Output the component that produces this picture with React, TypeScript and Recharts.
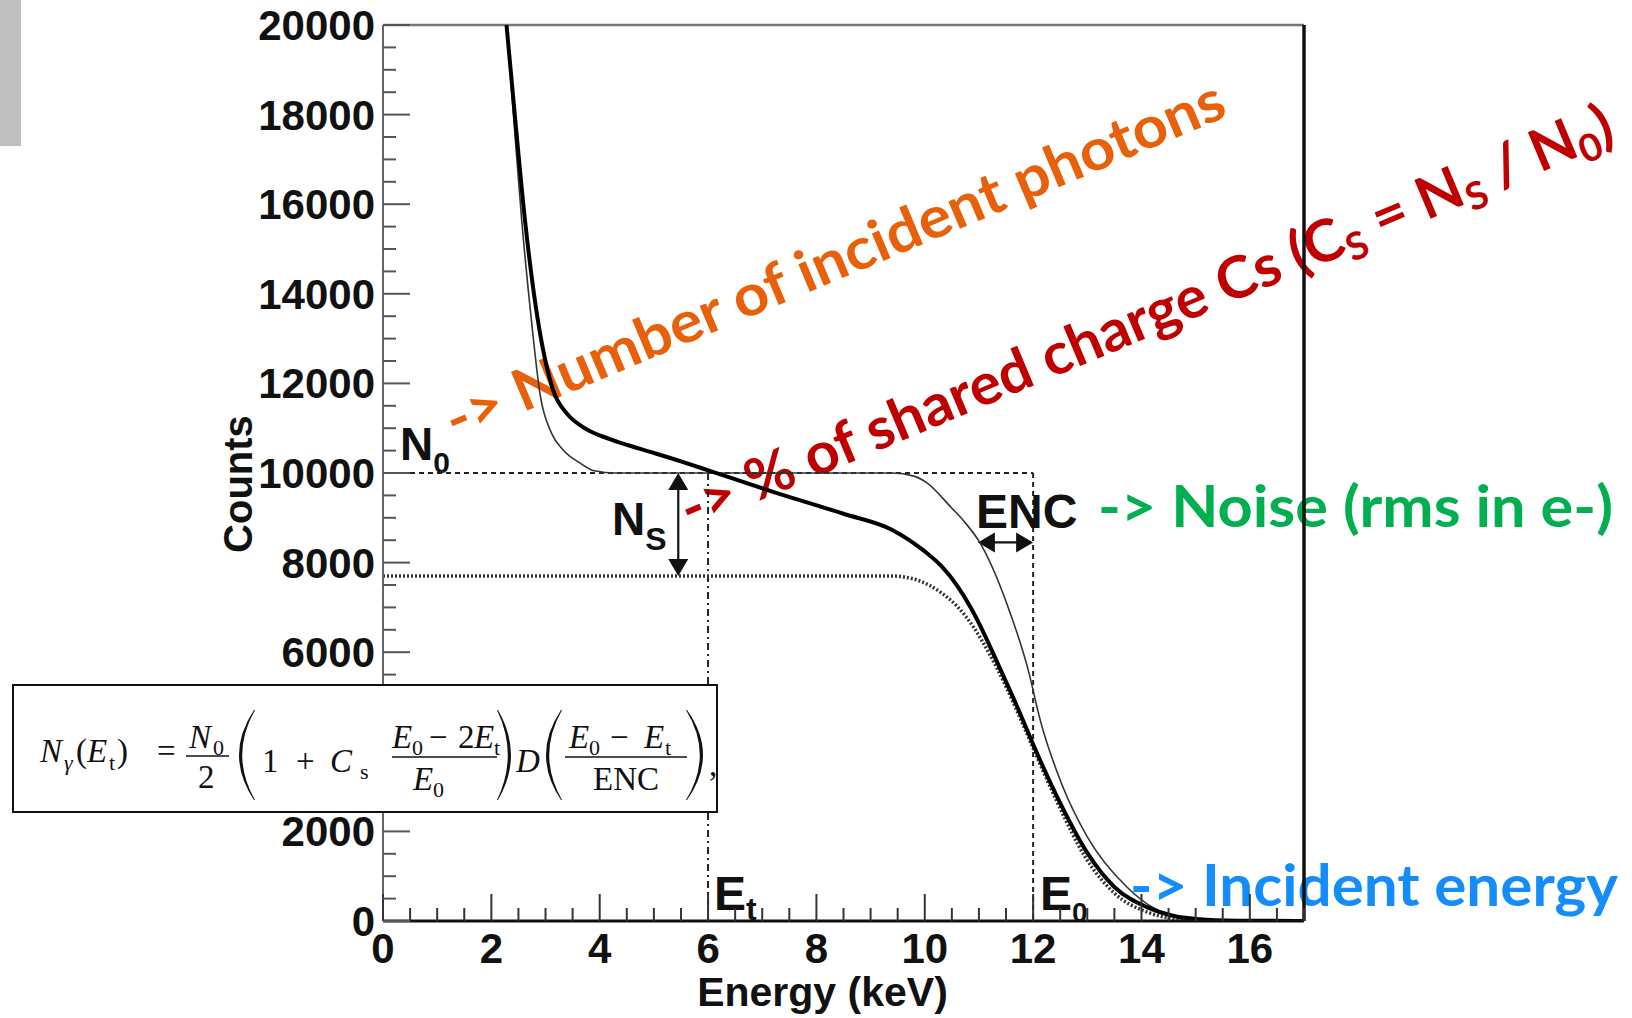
import React from "react";
import {
  LineChart,
  Line,
  XAxis,
  YAxis,
  ReferenceLine,
  ReferenceDot,
  Label,
} from "recharts";

const SANS = "'Liberation Sans', Arial, Helvetica, sans-serif";
const SERIF = "'Liberation Serif', 'Times New Roman', serif";
const NOTE = "Lato, 'Open Sans', sans-serif";

// measured spectrum (thick line)
const measEnergy = [2.28, 2.44, 2.62, 2.86, 3.14, 3.4, 3.7, 4.2, 4.75, 5.5, 6.1, 7.2, 8.5, 9.4, 10.0, 10.3, 10.6, 10.85, 11.1, 11.35, 11.7, 12.07, 12.5, 13.0, 13.5, 14.1, 14.6, 15.2, 16, 17];
const measCounts = [20000, 17900, 15650, 13400, 11850, 11320, 11020, 10750, 10540, 10260, 10020, 9580, 9090, 8730, 8250, 7930, 7480, 6990, 6400, 5740, 4800, 3750, 2630, 1520, 760, 310, 110, 30, 5, 0];

// no charge sharing (thin line)
const idealEnergy = [2.28, 2.42, 2.56, 2.74, 2.9, 3.11, 3.33, 3.64, 3.9, 4.3, 9.4, 9.8, 10.04, 10.48, 10.74, 11.02, 11.51, 11.91, 12.13, 12.55, 13.0, 13.73, 14.2, 14.8, 15.5, 17];
const idealCounts = [20000, 17800, 15650, 13400, 11750, 10890, 10510, 10220, 10050, 10000, 10000, 9930, 9780, 9240, 8900, 8440, 7100, 5600, 4490, 2990, 1880, 760, 310, 80, 10, 0];

// lost counts level (dotted line)
const lostEnergy = [0, 9.4, 9.86, 10.3, 10.6, 10.9, 11.2, 11.5, 11.8, 12.1, 12.45, 12.95, 13.5, 14.1, 14.6, 15.2];
const lostCounts = [7700, 7700, 7610, 7330, 7020, 6560, 5950, 5230, 4420, 3580, 2640, 1450, 620, 200, 50, 0];

const xLabels = [0, 2, 4, 6, 8, 10, 12, 14, 16];
const yMajor = [0, 2000, 4000, 6000, 8000, 10000, 12000, 14000, 16000, 18000, 20000];
// 4000 sits under the formula box in the picture
const yLabels = [0, 2000, 6000, 8000, 10000, 12000, 14000, 16000, 18000, 20000];
const xTicks = Array.from({ length: 35 }, (_, i) => i * 0.5);
const yTicks = Array.from({ length: 41 }, (_, i) => i * 500);

const N0 = 10000;
const NLOST = 7700;
const E_T = 6;
const E_0 = 12;

const toRows = (xs: number[], ys: number[]) => xs.map((e, i) => ({ energy: e, counts: ys[i] }));
const measured = toRows(measEnergy, measCounts);
const ideal = toRows(idealEnergy, idealCounts);
const lost = toRows(lostEnergy, lostCounts);

const XTick = (props: any) => {
  const { x, y, payload } = props;
  const v = payload.value;
  const major = xLabels.includes(v);
  return (
    <g>
      <line x1={x} x2={x} y1={y} y2={y - (major ? 27 : 13)} stroke="#333" strokeWidth={2} />
      {major && (
        <text x={x} y={y + 42} textAnchor="middle" fontFamily={SANS} fontWeight="bold" fontSize={42} fill="#111">
          {v}
        </text>
      )}
    </g>
  );
};

const YTick = (props: any) => {
  const { x, y, payload } = props;
  const v = payload.value;
  const major = yMajor.includes(v);
  return (
    <g>
      <line x1={x} x2={x + (major ? 27 : 13)} y1={y} y2={y} stroke="#555" strokeWidth={2} />
      {yLabels.includes(v) && (
        <text x={x - 8} y={y + 15} textAnchor="end" fontFamily={SANS} fontWeight="bold" fontSize={42} fill="#111">
          {v}
        </text>
      )}
    </g>
  );
};

const subLabel = (main: string, sub: string, size: number, subSize: number, drop: number) => (p: any) => (
  <text x={p.cx} y={p.cy} fontFamily={SANS} fontWeight="bold" fontSize={size} fill="#111">
    {main}
    <tspan fontSize={subSize} dy={drop}>
      {sub}
    </tspan>
  </text>
);

const doubleArrow = (p: any) => {
  const { x1, y1, x2, y2 } = p;
  const len = Math.hypot(x2 - x1, y2 - y1) || 1;
  const ux = (x2 - x1) / len;
  const uy = (y2 - y1) / len;
  const hl = 17;
  const hw = 10;
  const head = (tx: number, ty: number, dx: number, dy: number) => {
    const bx = tx - dx * hl;
    const by = ty - dy * hl;
    return `M${tx},${ty} L${bx - dy * hw},${by + dx * hw} L${bx + dy * hw},${by - dx * hw} Z`;
  };
  return (
    <g>
      <line x1={x1 + ux * 8} y1={y1 + uy * 8} x2={x2 - ux * 8} y2={y2 - uy * 8} stroke="#111" strokeWidth={2.2} />
      <path d={head(x1, y1, -ux, -uy)} fill="#111" />
      <path d={head(x2, y2, ux, uy)} fill="#111" />
    </g>
  );
};

const paren = (l: number, r: number, top: number, bot: number, left: boolean) => {
  const mid = (top + bot) / 2;
  if (left) {
    const x0 = l + 3;
    const x1 = r - 3;
    return `M${x1},${top} Q${2 * x0 - x1},${mid} ${x1},${bot} L${x1 + 1},${bot} Q${2 * (x0 + 3.2) - x1 - 1},${mid} ${x1 + 1},${top} Z`;
  }
  const x0 = r - 3;
  const x1 = l + 3;
  return `M${x1},${top} Q${2 * x0 - x1},${mid} ${x1},${bot} L${x1 - 1},${bot} Q${2 * (x0 - 3.2) - x1 + 1},${mid} ${x1 - 1},${top} Z`;
};

// [x, y, text, size, italic]
const formulaPieces: [number, number, string, number, boolean][] = [
  [28, 78, "N", 33, true],
  [52, 86, "γ", 22, true],
  [64, 78, "(", 33, false],
  [75, 78, "E", 33, true],
  [97, 86, "t", 22, false],
  [105, 78, ")", 33, false],
  [145, 78, "=", 33, false],
  [177, 64, "N", 33, true],
  [201, 71, "0", 22, false],
  [186, 104, "2", 33, false],
  [250, 88, "1", 33, false],
  [284, 88, "+", 33, false],
  [318, 88, "C", 33, true],
  [348, 95, "s", 22, false],
  [380, 64, "E", 33, true],
  [400, 71, "0", 22, false],
  [417, 64, "−", 33, false],
  [446, 64, "2", 33, false],
  [462, 64, "E", 33, true],
  [482, 71, "t", 22, false],
  [401, 106, "E", 33, true],
  [421, 113, "0", 22, false],
  [504, 88, "D", 33, true],
  [557, 64, "E", 33, true],
  [577, 71, "0", 22, false],
  [598, 64, "−", 33, false],
  [632, 64, "E", 33, true],
  [653, 71, "t", 22, false],
  [581, 106, "ENC", 33, false],
  [697, 92, ",", 33, false],
];

const Formula = () => (
  <svg width={706} height={129} style={{ position: "absolute", left: -2, top: -2, overflow: "visible" }}>
    <text fontFamily={SERIF} fill="#111">
      {formulaPieces.map(([x, y, t, size, it], i) => (
        <tspan key={i} x={x} y={y} fontSize={size} fontStyle={it ? "italic" : "normal"}>
          {t}
        </tspan>
      ))}
    </text>
    <line x1={174} x2={217} y1={72} y2={72} stroke="#111" strokeWidth={1.6} />
    <line x1={380} x2={485} y1={73} y2={73} stroke="#111" strokeWidth={1.6} />
    <line x1={553} x2={675} y1={73} y2={73} stroke="#111" strokeWidth={1.6} />
    <path d={paren(224, 245, 26, 116, true)} fill="#111" />
    <path d={paren(483, 502, 26, 116, false)} fill="#111" />
    <path d={paren(531, 552, 26, 116, true)} fill="#111" />
    <path d={paren(672, 694, 26, 116, false)} fill="#111" />
  </svg>
);

const Notes = () => {
  const base = { fontFamily: NOTE, fontWeight: 700, fontSize: 58, lengthAdjust: "spacingAndGlyphs" } as any;
  return (
    <svg width={1632} height={1018} style={{ position: "absolute", left: 0, top: 0 }}>
      <rect x={0} y={0} width={21} height={146} fill="#BFBFBF" />
      <text x={455} y={441} transform="rotate(-22.8 455 441)" {...base} textLength={840} fill="#E8600A">
        {"-> Number of incident photons"}
      </text>
      <text x={690} y={530} transform="rotate(-22.8 690 530)" {...base} textLength={1006} fill="#C00000">
        {"-> % of shared charge Cs (C"}
        <tspan fontSize={38} dy={10}>S</tspan>
        <tspan dy={-10}>{" = N"}</tspan>
        <tspan fontSize={38} dy={10}>S</tspan>
        <tspan dy={-10}>{" / N"}</tspan>
        <tspan fontSize={38} dy={10}>0</tspan>
        <tspan dy={-10}>)</tspan>
      </text>
      <text x={1098} y={527} {...base} textLength={515} fill="#00B050">
        {"-> Noise (rms in e-)"}
      </text>
      <text x={1130} y={906} {...base} textLength={488} fill="#148CFA">
        {"-> Incident energy"}
      </text>
    </svg>
  );
};

export default function App() {
  return (
    <div style={{ position: "absolute", left: 0, top: 0, width: 1632, height: 1018, background: "#fff", overflow: "hidden" }}>
      <Notes />
      <div style={{ position: "absolute", left: 0, top: 0 }}>
        <LineChart width={1632} height={1018} margin={{ top: 25, right: 328, bottom: 7, left: 233 }}>
          <XAxis
            type="number"
            dataKey="energy"
            domain={[0, 17]}
            ticks={xTicks}
            interval={0}
            tickSize={0}
            tickMargin={0}
            tick={XTick}
            height={90}
            axisLine={{ stroke: "#111", strokeWidth: 3 }}
            allowDataOverflow
          >
            <Label
              content={(p: any) => (
                <text
                  x={p.viewBox.x + p.viewBox.width / 2 - 21}
                  y={p.viewBox.y + 85}
                  textAnchor="middle"
                  fontFamily={SANS}
                  fontWeight="bold"
                  fontSize={41}
                  fill="#111"
                >
                  Energy (keV)
                </text>
              )}
            />
          </XAxis>
          <YAxis
            type="number"
            domain={[0, 20000]}
            ticks={yTicks}
            interval={0}
            tickSize={0}
            tickMargin={0}
            tick={YTick}
            width={150}
            axisLine={{ stroke: "#666", strokeWidth: 2 }}
            allowDataOverflow
          >
            <Label
              content={(p: any) => {
                const cx = p.viewBox.x + 5;
                const cy = p.viewBox.y + p.viewBox.height / 2 + 11;
                return (
                  <text
                    x={cx}
                    y={cy}
                    transform={`rotate(-90 ${cx} ${cy})`}
                    textAnchor="middle"
                    dominantBaseline="central"
                    fontFamily={SANS}
                    fontWeight="bold"
                    fontSize={40}
                    fill="#111"
                  >
                    Counts
                  </text>
                );
              }}
            />
          </YAxis>
          <ReferenceLine y={20000} stroke="#777" strokeWidth={2.5} />
          <ReferenceLine x={17} stroke="#111" strokeWidth={3.5} />
          <ReferenceLine segment={[{ x: 0, y: N0 }, { x: E_0, y: N0 }]} stroke="#222" strokeWidth={2} strokeDasharray="5 4" />
          <ReferenceLine segment={[{ x: E_0, y: N0 }, { x: E_0, y: 0 }]} stroke="#222" strokeWidth={2} strokeDasharray="5 4" />
          <ReferenceLine segment={[{ x: E_T, y: N0 }, { x: E_T, y: 0 }]} stroke="#222" strokeWidth={2} strokeDasharray="7 4 2 4" />
          <ReferenceLine segment={[{ x: 5.45, y: N0 }, { x: 5.45, y: NLOST }]} shape={doubleArrow} />
          <ReferenceLine segment={[{ x: 10.98, y: 8450 }, { x: E_0, y: 8450 }]} shape={doubleArrow} />
          <Line data={lost} dataKey="counts" type="monotone" stroke="#333" strokeWidth={3.5} strokeDasharray="2 2" dot={false} isAnimationActive={false} />
          <Line data={ideal} dataKey="counts" type="monotone" stroke="#333" strokeWidth={1.6} dot={false} isAnimationActive={false} />
          <Line data={measured} dataKey="counts" type="monotone" stroke="#000" strokeWidth={4} dot={false} isAnimationActive={false} />
          <ReferenceDot x={0.314} y={10290} r={0} shape={subLabel("N", "0", 46, 30, 13)} />
          <ReferenceDot x={4.227} y={8616} r={0} shape={subLabel("N", "S", 46, 32, 15)} />
          <ReferenceDot x={10.946} y={8772} r={0} shape={subLabel("ENC", "", 48, 30, 0)} />
          <ReferenceDot x={6.11} y={246} r={0} shape={subLabel("E", "t", 48, 32, 10)} />
          <ReferenceDot x={12.127} y={246} r={0} shape={subLabel("E", "0", 48, 28, 12)} />
        </LineChart>
      </div>
      <div
        style={{
          position: "absolute",
          left: 12,
          top: 684,
          width: 706,
          height: 129,
          boxSizing: "border-box",
          border: "2px solid #111",
          background: "#fff",
        }}
      >
        <Formula />
      </div>
    </div>
  );
}
